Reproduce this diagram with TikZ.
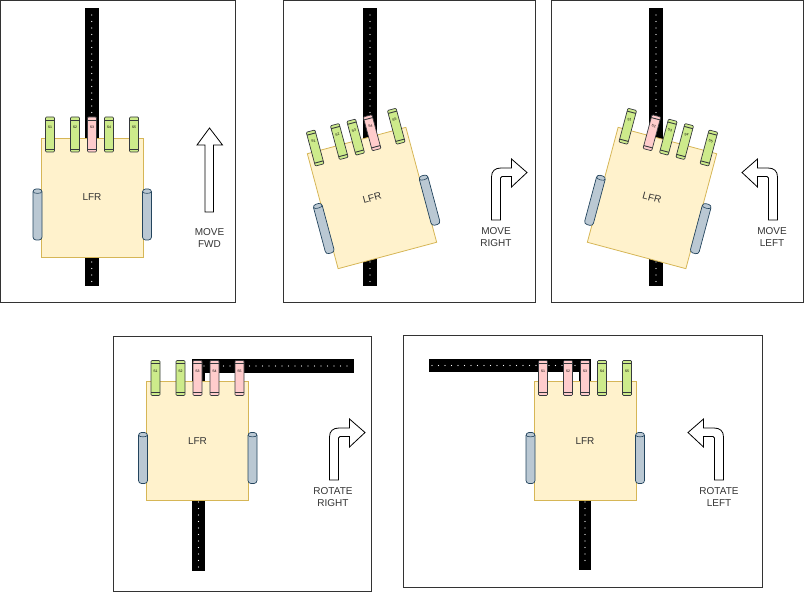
\documentclass[tikz,border=0pt]{standalone}
\usepackage{fontspec}
\setmainfont{Liberation Sans}

\definecolor{bodyfill}{HTML}{FFF2CC}
\definecolor{bodyline}{HTML}{D6B656}
\definecolor{offfill}{HTML}{CDEB8B}
\definecolor{onfill}{HTML}{FFCCCC}
\definecolor{sensline}{HTML}{36393D}
\definecolor{wheelfill}{HTML}{BAC8D3}
\definecolor{wheelline}{HTML}{23445D}
\definecolor{textgrey}{HTML}{333333}

\tikzset{
  frame/.style={draw=black!80, line width=1pt},
  track/.style={fill=black},
  dots/.style={draw=white, line width=1.4pt, line cap=round, dash pattern=on 0pt off 6.5pt},
  body/.style={rectangle, fill=bodyfill, draw=bodyline, line width=0.8pt, minimum width=102pt, minimum height=119pt, inner sep=0pt, font=\fontsize{10}{12}\selectfont, text=textgrey},
  offline/.style={fill=offfill, draw=sensline, line width=0.7pt},
  online/.style={fill=onfill, draw=sensline, line width=0.7pt},
  caption/.style={align=center, font=\fontsize{10}{12}\selectfont, text=textgrey},
  arrowline/.style={draw=black, fill=white, line width=0.8pt},
  sensor/.pic={
    \draw[pic actions, rounded corners=1pt] (-4.5,-17.5) rectangle (4.5,17.5);
    \draw[sensline, line width=0.9pt] (-4.5,-14.5) -- (4.5,-14.5) (-4.5,14.5) -- (4.5,14.5);
    \node[font=\fontsize{3.5}{4}\selectfont, inner sep=0pt, transform shape] (-lbl) at (0,-7) {\tikzpictext};
  },
  wheel/.pic={
    \draw[fill=wheelfill, draw=wheelline, line width=0.7pt, rounded corners=3pt] (-4.5,-25.5) rectangle (4.5,25.5);
    \draw[wheelline, line width=0.6pt] (-4.5,-23) .. controls (-4.5,-20.5) and (4.5,-20.5) .. (4.5,-23);
  },
  turn/.pic={
    \draw[arrowline] (-4.5,0) -- (-4.5,-43) .. controls (-4.5,-49) and (-1,-52) .. (5,-52)
      -- (15.5,-52) -- (15.5,-61) -- (31,-47.5) -- (15.5,-33) -- (15.5,-43.5) -- (6,-43.5)
      .. controls (5,-43.5) and (4.5,-43) .. (4.5,-42) -- (4.5,0) -- cycle;
  }
}

\begin{document}
\begin{tikzpicture}[x=1pt,y=-1pt]

        \useasboundingbox (0,0) rectangle (804,593);

        % move forward
        \draw[frame] (0.5,0.5) rectangle (235.5,302.5);
        \fill[track] (85,8) rectangle (98.5,286);
        \draw[dots] (91.75,15) -- (91.75,284);
        \begin{scope}[shift={(92,197.5)}, every node/.append style={transform shape}]
          \node[body] (fwd) at (0,0) {LFR};
          \pic (fwdwl) at (-54.5,17) {wheel};
          \pic (fwdwr) at (55,17) {wheel};
          \pic[offline, pic text=S1] (fwds1) at (-42,-63) {sensor};
          \pic[offline, pic text=S2] (fwds2) at (-17,-63) {sensor};
          \pic[online,  pic text=S3] (fwds3) at (0,-63)   {sensor};
          \pic[offline, pic text=S4] (fwds4) at (17,-63)  {sensor};
          \pic[offline, pic text=S5] (fwds5) at (42,-63)  {sensor};
        \end{scope}
        \draw[arrowline] (205,212) -- (205,145) -- (197,145) -- (209.5,128) -- (222.5,145) -- (213.5,145) -- (213.5,212) -- cycle;
        \node[caption] (fwdtxt) at (209.5,238) {MOVE\\FWD};

        % move right
        \draw[frame] (283,0.5) rectangle (535,302.5);
        \fill[track] (363,8) rectangle (377,286);
        \draw[dots] (370,15) -- (370,284);
        \begin{scope}[shift={(372,198)}, rotate=15, every node/.append style={transform shape}]
          \node[body] (right) at (0,0) {LFR};
          \pic (rightwl) at (-54.5,17) {wheel};
          \pic (rightwr) at (55,17) {wheel};
          \pic[offline, pic text=S1] (rights1) at (-42,-63) {sensor};
          \pic[offline, pic text=S2] (rights2) at (-17,-63) {sensor};
          \pic[offline, pic text=S3] (rights3) at (0,-63)   {sensor};
          \pic[online,  pic text=S4] (rights4) at (17,-63)  {sensor};
          \pic[offline, pic text=S5] (rights5) at (42,-63)  {sensor};
        \end{scope}
        \pic (rightarr) at (496,220) {turn};
        \node[caption] (righttxt) at (496,237) {MOVE\\RIGHT};

        % move left
        \draw[frame] (551,0.5) rectangle (803.5,302.5);
        \fill[track] (649,8) rectangle (663,286);
        \draw[dots] (656,15) -- (656,284);
        \begin{scope}[shift={(652,198)}, rotate=-15, every node/.append style={transform shape}]
          \node[body] (left) at (0,0) {LFR};
          \pic (leftwl) at (-54.5,17) {wheel};
          \pic (leftwr) at (55,17) {wheel};
          \pic[offline, pic text=S1] (lefts1) at (-42,-63) {sensor};
          \pic[online,  pic text=S2] (lefts2) at (-17,-63) {sensor};
          \pic[offline, pic text=S3] (lefts3) at (0,-63)   {sensor};
          \pic[offline, pic text=S4] (lefts4) at (17,-63)  {sensor};
          \pic[offline, pic text=S5] (lefts5) at (42,-63)  {sensor};
        \end{scope}
        \pic[xscale=-1] (leftarr) at (773,220) {turn};
        \node[caption] (lefttxt) at (772,237) {MOVE\\LEFT};

        % rotate right
        \draw[frame] (113,337) rectangle (371,592);
        \fill[track] (192,359) rectangle (205,571);
        \fill[track] (192,359) rectangle (354,373);
        \draw[dots] (198.5,372) -- (198.5,568);
        \draw[dots] (204,366) -- (352,366);
        \begin{scope}[shift={(197.5,441)}, every node/.append style={transform shape}]
          \node[body] (rotr) at (0,0) {LFR};
          \pic (rotrwl) at (-54.5,17) {wheel};
          \pic (rotrwr) at (55,17) {wheel};
          \pic[offline, pic text=S1] (rotrs1) at (-42,-63) {sensor};
          \pic[offline, pic text=S2] (rotrs2) at (-17,-63) {sensor};
          \pic[online,  pic text=S3] (rotrs3) at (0,-63)   {sensor};
          \pic[online,  pic text=S4] (rotrs4) at (17,-63)  {sensor};
          \pic[online,  pic text=S5] (rotrs5) at (42,-63)  {sensor};
        \end{scope}
        \pic (rotrarr) at (334,480) {turn};
        \node[caption] (rotrtxt) at (333,497.5) {ROTATE\\RIGHT};

        % rotate left
        \draw[frame] (403,336) rectangle (762,588);
        \fill[track] (579,359) rectangle (591,570);
        \fill[track] (429,359) rectangle (591,372);
        \draw[dots] (585,372) -- (585,567);
        \draw[dots] (432,365.5) -- (584,365.5);
        \begin{scope}[shift={(585,441)}, every node/.append style={transform shape}]
          \node[body] (rotl) at (0,0) {LFR};
          \pic (rotlwl) at (-54.5,17) {wheel};
          \pic (rotlwr) at (55,17) {wheel};
          \pic[online,  pic text=S1] (rotls1) at (-42,-63) {sensor};
          \pic[online,  pic text=S2] (rotls2) at (-17,-63) {sensor};
          \pic[online,  pic text=S3] (rotls3) at (0,-63)   {sensor};
          \pic[offline, pic text=S4] (rotls4) at (17,-63)  {sensor};
          \pic[offline, pic text=S5] (rotls5) at (42,-63)  {sensor};
        \end{scope}
        \pic[xscale=-1] (rotlarr) at (719,480) {turn};
        \node[caption] (rotltxt) at (719,497.5) {ROTATE\\LEFT};

      \end{tikzpicture}
\end{document}
